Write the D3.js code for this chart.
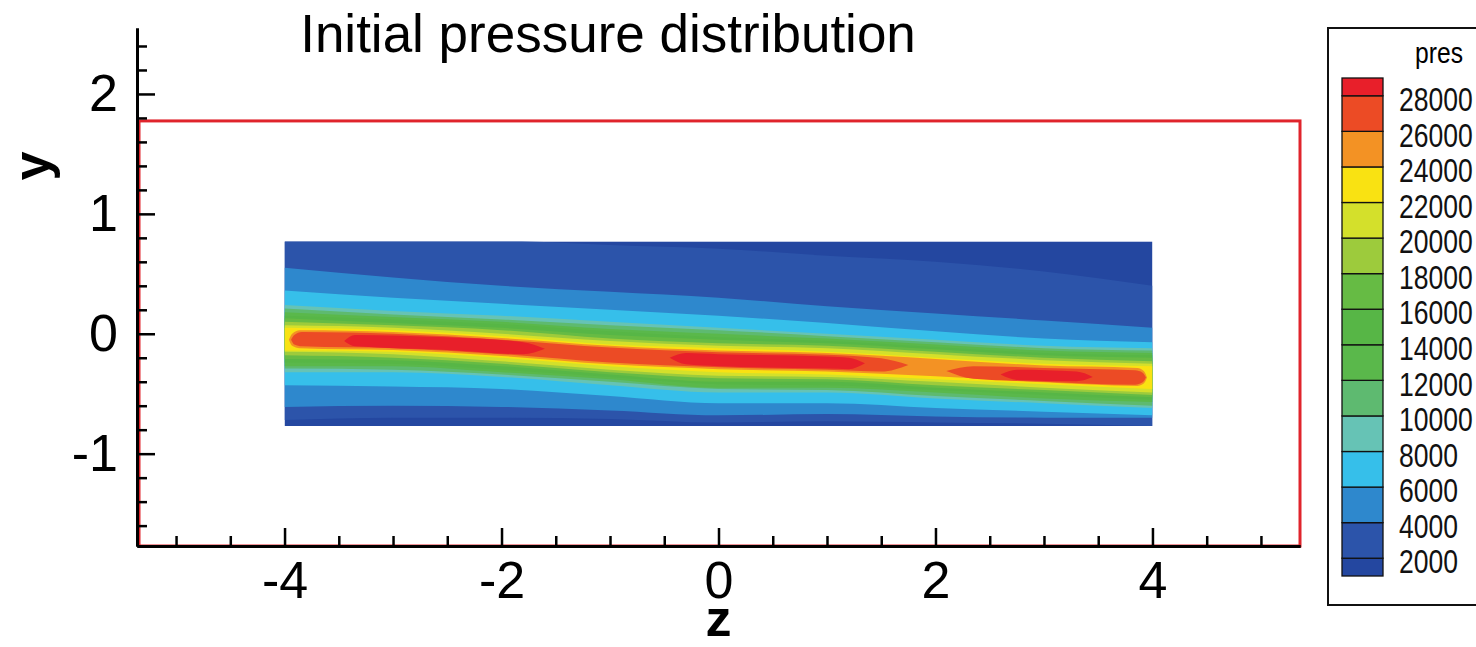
<!DOCTYPE html>
<html>
<head>
<meta charset="utf-8">
<script src="https://cdn.jsdelivr.net/npm/d3@7"></script>
<style>
  html, body { margin: 0; padding: 0; background: #fff; }
  svg { display: block; font-family: 'Liberation Sans', Arial, sans-serif; }
</style>
</head>
<body>
<svg id="chart" width="1476" height="647"></svg>
<script>
/* ---------- data ---------- */
const zStations = [-4, -3, -2, -1, 0, 1, 2, 3, 4];
const outerLevels = [2000, 4000, 6000, 8000, 10000, 12000, 14000, 16000, 18000, 20000, 22000];

// y of each contour line above / below the ridge, one row per level, one column per z station
const upperEdge = [
  [0.82, 0.80, 0.78, 0.74, 0.71, 0.65, 0.60, 0.52, 0.40],
  [0.55, 0.47, 0.40, 0.35, 0.30, 0.23, 0.17, 0.11, 0.05],
  [0.36, 0.30, 0.25, 0.20, 0.15, 0.09, 0.02, -0.04, -0.07],
  [0.24, 0.19, 0.15, 0.10, 0.05, 0.00, -0.05, -0.10, -0.12],
  [0.21, 0.16, 0.12, 0.07, 0.03, -0.02, -0.07, -0.12, -0.14],
  [0.18, 0.14, 0.10, 0.04, 0.00, -0.04, -0.09, -0.14, -0.16],
  [0.15, 0.12, 0.08, 0.02, -0.03, -0.06, -0.11, -0.16, -0.18],
  [0.13, 0.09, 0.05, -0.01, -0.05, -0.08, -0.13, -0.18, -0.20],
  [0.10, 0.07, 0.03, -0.04, -0.08, -0.10, -0.15, -0.20, -0.23],
  [0.07, 0.05, 0.00, -0.06, -0.10, -0.12, -0.17, -0.22, -0.25],
  [0.05, 0.03, -0.02, -0.09, -0.12, -0.15, -0.20, -0.25, -0.27]
];
const lowerEdge = [
  [-0.72, -0.70, -0.70, -0.71, -0.74, -0.73, -0.74, -0.75, -0.77],
  [-0.61, -0.60, -0.61, -0.64, -0.68, -0.67, -0.69, -0.70, -0.70],
  [-0.43, -0.44, -0.46, -0.52, -0.58, -0.58, -0.62, -0.65, -0.68],
  [-0.32, -0.32, -0.36, -0.43, -0.49, -0.49, -0.54, -0.58, -0.62],
  [-0.29, -0.30, -0.34, -0.40, -0.46, -0.47, -0.52, -0.56, -0.60],
  [-0.27, -0.27, -0.32, -0.38, -0.45, -0.45, -0.49, -0.54, -0.57],
  [-0.24, -0.25, -0.30, -0.36, -0.42, -0.43, -0.47, -0.51, -0.55],
  [-0.21, -0.22, -0.27, -0.34, -0.40, -0.40, -0.45, -0.49, -0.53],
  [-0.18, -0.20, -0.25, -0.32, -0.37, -0.38, -0.43, -0.47, -0.51],
  [-0.15, -0.17, -0.23, -0.30, -0.35, -0.36, -0.40, -0.45, -0.49],
  [-0.14, -0.15, -0.20, -0.27, -0.32, -0.34, -0.38, -0.42, -0.46]
];

// the hot core along the ridge (24000, 26000, 28000) only covers part of the length
const core24Z     = [-3.96, -3.93, -3.86, -3, -2, -1, 0, 1, 2, 3, 3.86, 3.92, 3.95];
const core24Upper = [-0.05, 0.00, 0.03, 0.015, -0.035, -0.10, -0.14, -0.16, -0.21, -0.265, -0.285, -0.31, -0.365];
const core24Lower = [-0.05, -0.10, -0.12, -0.135, -0.185, -0.255, -0.295, -0.315, -0.355, -0.405, -0.435, -0.415, -0.365];

const core26aZ     = [-3.94, -3.91, -3.84, -3, -2, -1, 0, 1, 1.5, 1.75];
const core26aUpper = [-0.05, -0.01, 0.015, 0.0, -0.05, -0.115, -0.155, -0.175, -0.205, -0.26];
const core26aLower = [-0.05, -0.09, -0.105, -0.12, -0.17, -0.24, -0.28, -0.30, -0.315, -0.26];
const core26bZ     = [2.1, 2.35, 3, 3.84, 3.91, 3.94];
const core26bUpper = [-0.31, -0.27, -0.285, -0.305, -0.325, -0.365];
const core26bLower = [-0.31, -0.375, -0.40, -0.425, -0.405, -0.365];

const core28aZ     = [-3.45, -3.35, -2.5, -1.8, -1.6];
const core28aUpper = [-0.06, -0.01, -0.03, -0.07, -0.125];
const core28aLower = [-0.06, -0.105, -0.135, -0.17, -0.125];
const core28bZ     = [-0.45, -0.3, 0, 1, 1.2, 1.35];
const core28bUpper = [-0.20, -0.16, -0.17, -0.19, -0.20, -0.245];
const core28bLower = [-0.20, -0.255, -0.27, -0.29, -0.295, -0.245];
const core28cZ     = [2.6, 2.75, 3.3, 3.45];
const core28cUpper = [-0.34, -0.30, -0.315, -0.36];
const core28cLower = [-0.34, -0.385, -0.395, -0.36];

// legend levels and the colour of the band above each level (index 0 = below 2000)
const legendLevels = [2000, 4000, 6000, 8000, 10000, 12000, 14000, 16000, 18000, 20000, 22000, 24000, 26000, 28000];
const bandColors = ['#2447a0', '#2c54aa', '#2e88cd', '#36bfea', '#66c3b5', '#5eba70', '#5ab84b',
                    '#57b646', '#66bb44', '#9dcb3c', '#d4e02b', '#f9e212', '#f39224', '#ec4b25', '#e81f2a'];

const xMajor = [-4, -2, 0, 2, 4];
const xMinor = [-5, -4.5, -3.5, -3, -2.5, -1.5, -1, -0.5, 0.5, 1, 1.5, 2.5, 3, 3.5, 4.5, 5];
const yMajor = [-1, 0, 1, 2];
const yMinor = [-1.6, -1.4, -1.2, -0.8, -0.6, -0.4, -0.2, 0.2, 0.4, 0.6, 0.8, 1.2, 1.4, 1.6, 1.8, 2.2, 2.4];

const domainBox = { z0: -5.36, z1: 5.36, y0: -1.77, y1: 1.775 };
const fieldBox = { z0: -4, z1: 4, y0: -0.77, y1: 0.77 };

/* ---------- scales ---------- */
const svg = d3.select('#chart');
const x = d3.scaleLinear().domain([-5.36, 5.36]).range([137, 1300]);
const y = d3.scaleLinear().domain([-1.77, 2.55]).range([546, 28]);
const levelColor = lvl => bandColors[lvl / 2000];

/* ---------- contour flood ---------- */
svg.append('clipPath').attr('id', 'field-clip')
  .append('rect')
  .attr('x', x(fieldBox.z0)).attr('y', y(fieldBox.y1))
  .attr('width', x(fieldBox.z1) - x(fieldBox.z0))
  .attr('height', y(fieldBox.y0) - y(fieldBox.y1));

const field = svg.append('g').attr('clip-path', 'url(#field-clip)');

field.append('rect')
  .attr('x', x(fieldBox.z0)).attr('y', y(fieldBox.y1))
  .attr('width', x(fieldBox.z1) - x(fieldBox.z0))
  .attr('height', y(fieldBox.y0) - y(fieldBox.y1))
  .attr('fill', bandColors[0]);

const area = d3.area()
  .x(d => x(d.z))
  .y0(d => y(d.lo))
  .y1(d => y(d.hi))
  .curve(d3.curveMonotoneX);

const outerBands = outerLevels.map((lvl, i) => ({
  level: lvl,
  pts: zStations.map((z, j) => ({ z, hi: upperEdge[i][j], lo: lowerEdge[i][j] }))
}));

const toPts = (zs, up, lo) => zs.map((z, j) => ({ z, hi: up[j], lo: lo[j] }));
const coreBands = [
  { level: 24000, pts: toPts(core24Z, core24Upper, core24Lower) },
  { level: 26000, pts: toPts(core26aZ, core26aUpper, core26aLower) },
  { level: 26000, pts: toPts(core26bZ, core26bUpper, core26bLower) },
  { level: 28000, pts: toPts(core28aZ, core28aUpper, core28aLower) },
  { level: 28000, pts: toPts(core28bZ, core28bUpper, core28bLower) },
  { level: 28000, pts: toPts(core28cZ, core28cUpper, core28cLower) }
];

field.selectAll('path.band')
  .data(outerBands.concat(coreBands))
  .join('path')
  .attr('class', 'band')
  .attr('d', d => area(d.pts))
  .attr('fill', d => levelColor(d.level));

/* ---------- red domain outline ---------- */
svg.append('rect')
  .attr('x', x(domainBox.z0) + 2).attr('y', y(domainBox.y1))
  .attr('width', x(domainBox.z1) - x(domainBox.z0) - 2)
  .attr('height', y(domainBox.y0) - y(domainBox.y1))
  .attr('fill', 'none')
  .attr('stroke', '#e0242c')
  .attr('stroke-width', 3);

/* ---------- axes ---------- */
const styleAxis = g => {
  g.select('.domain').attr('stroke', '#000').attr('stroke-width', 3);
  g.selectAll('.tick line').attr('stroke', '#000').attr('stroke-width', 2.5);
  g.selectAll('.tick text').attr('fill', '#000').attr('font-size', 52)
    .attr('font-family', "'Liberation Sans', Arial, sans-serif");
};

svg.append('g')
  .attr('transform', `translate(0,${y(-1.77)})`)
  .call(d3.axisBottom(x).tickValues(xMinor).tickSize(-10).tickSizeOuter(0).tickFormat(''))
  .call(styleAxis);
svg.append('g')
  .attr('transform', `translate(0,${y(-1.77)})`)
  .call(d3.axisBottom(x).tickValues(xMajor).tickSize(-18).tickSizeOuter(0).tickPadding(15).tickFormat(d => String(d)))
  .call(styleAxis);

svg.append('g')
  .attr('transform', `translate(${x(-5.36)},0)`)
  .call(d3.axisLeft(y).tickValues(yMinor).tickSize(-10).tickSizeOuter(0).tickFormat(''))
  .call(styleAxis);
svg.append('g')
  .attr('transform', `translate(${x(-5.36)},0)`)
  .call(d3.axisLeft(y).tickValues(yMajor).tickSize(-18).tickSizeOuter(0).tickPadding(19).tickFormat(d => String(d)))
  .call(styleAxis);

// axis titles
svg.append('text')
  .attr('transform', 'translate(49,166) rotate(-90)')
  .attr('text-anchor', 'middle')
  .attr('font-size', 52).attr('font-weight', 'bold')
  .text('y');
svg.append('text')
  .attr('x', x(0)).attr('y', 636)
  .attr('text-anchor', 'middle')
  .attr('font-size', 52).attr('font-weight', 'bold')
  .text('z');

// title
svg.append('text')
  .attr('x', 608).attr('y', 52)
  .attr('text-anchor', 'middle')
  .attr('font-size', 53)
  .text('Initial pressure distribution');

/* ---------- legend ---------- */
const cScale = d3.scaleLinear().domain([1000, 29000]).range([576, 78]);
const legend = svg.append('g').attr('class', 'legend');

legend.append('rect')
  .attr('x', 1328).attr('y', 28).attr('width', 200).attr('height', 577)
  .attr('fill', '#fff').attr('stroke', '#111').attr('stroke-width', 2);

legend.append('text')
  .attr('transform', 'translate(1439,63) scale(0.85,1)')
  .attr('text-anchor', 'middle')
  .attr('font-size', 29)
  .text('pres');

const legendBands = bandColors.map((c, i) => ({
  lo: i === 0 ? 1000 : legendLevels[i - 1],
  hi: i === bandColors.length - 1 ? 29000 : legendLevels[i],
  color: c
}));

legend.selectAll('rect.swatch')
  .data(legendBands)
  .join('rect')
  .attr('class', 'swatch')
  .attr('x', 1342).attr('width', 41)
  .attr('y', d => cScale(d.hi))
  .attr('height', d => cScale(d.lo) - cScale(d.hi))
  .attr('fill', d => d.color)
  .attr('stroke', '#111').attr('stroke-width', 1.3);

// labels are drawn in a horizontally squeezed face, like the narrow legend font of the original
legend.selectAll('text.lvl')
  .data(legendLevels)
  .join('text')
  .attr('class', 'lvl')
  .attr('transform', d => `translate(1399,${cScale(d) + 3}) scale(0.78,1)`)
  .attr('dominant-baseline', 'central')
  .attr('font-size', 34)
  .attr('fill', '#111')
  .text(d => d);
</script>
</body>
</html>
